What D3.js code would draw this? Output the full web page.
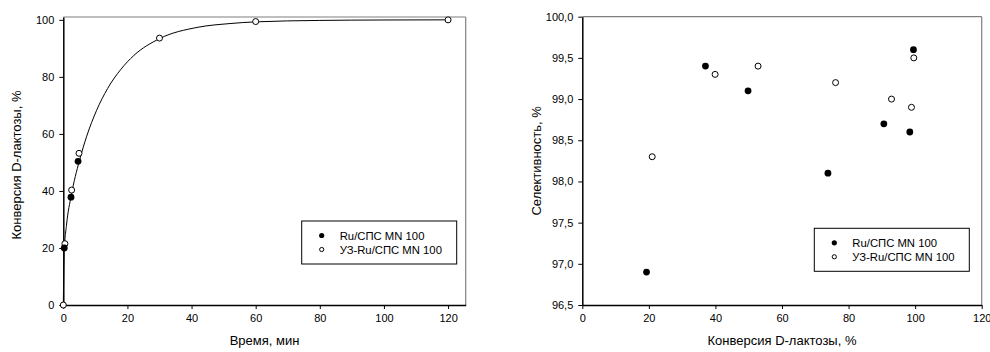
<!DOCTYPE html>
<html><head><meta charset="utf-8">
<script src="https://cdn.jsdelivr.net/npm/d3@7/dist/d3.min.js"></script>
<style>
body{margin:0;background:#fff;}
svg{display:block;font-family:"Liberation Sans",Arial,sans-serif;}
</style></head>
<body>
<svg id="c" width="990" height="352"></svg>
<script>
// ---- Data: left chart (conversion vs time) ----
const timeRu = [0.3, 2.4, 4.6];
const convRu = [20, 37.8, 50.4];
const timeUZ = [0, 0.5, 2.6, 4.9, 30, 60, 120];
const convUZ = [0, 21.5, 40.3, 53.2, 93.6, 99.4, 100];
// fitted curve
const fitTime = [0, 0.3, 1, 2.5, 5, 7.3, 10.4, 13.8, 18, 22, 30, 42, 52, 60, 80, 100, 120];
const fitConv = [0, 19, 28, 38.5, 50.5, 59.2, 68.3, 75.9, 82.7, 87.5, 93.4, 97.4, 98.7, 99.3, 99.8, 99.95, 100];
const leftXTicks = [0, 20, 40, 60, 80, 100, 120];
const leftYTicks = [0, 20, 40, 60, 80, 100];

// ---- Data: right chart (selectivity vs conversion) ----
const convRuS = [19.3, 37, 49.8, 73.8, 90.6, 98.4, 99.5];
const selRu   = [96.9, 99.4, 99.1, 98.1, 98.7, 98.6, 99.6];
const convUZS = [21, 39.9, 52.8, 76.1, 92.9, 98.9, 99.6];
const selUZ   = [98.3, 99.3, 99.4, 99.2, 99.0, 98.9, 99.5];
const rightXTicks = [0, 20, 40, 60, 80, 100, 120];
const rightYTicks = [96.5, 97, 97.5, 98, 98.5, 99, 99.5, 100];

const seriesNames = ["Ru/СПС MN 100", "УЗ-Ru/СПС MN 100"];

const svg = d3.select("#c");
const comma = d3.formatLocale({decimal: ",", thousands: " ", grouping: [3], currency: ["", ""]});

function panel(o) {
  const g = svg.append("g");
  const x = d3.scaleLinear().domain(o.xDomain).range([o.left, o.right]);
  const y = d3.scaleLinear().domain(o.yDomain).range([o.bottom, o.top]);

  // grey top/right frame
  g.append("line").attr("x1", o.left).attr("x2", o.right).attr("y1", o.top).attr("y2", o.top)
    .attr("stroke", "#7f7f7f").attr("stroke-width", 1.2);
  g.append("line").attr("x1", o.right).attr("x2", o.right).attr("y1", o.top).attr("y2", o.bottom)
    .attr("stroke", "#7f7f7f").attr("stroke-width", 1.2);

  const xa = g.append("g").attr("transform", `translate(0,${o.bottom})`)
    .call(d3.axisBottom(x).tickValues(o.xTicks).tickSize(4).tickPadding(5).tickFormat(d3.format("d")).tickSizeOuter(0));
  const ya = g.append("g").attr("transform", `translate(${o.left},0)`)
    .call(d3.axisLeft(y).tickValues(o.yTicks).tickSize(4).tickPadding(5).tickFormat(o.yFmt).tickSizeOuter(0));
  [xa, ya].forEach(a => {
    a.select(".domain").attr("stroke", "#000").attr("stroke-width", 1.5);
    a.selectAll(".tick line").attr("stroke", "#000").attr("stroke-width", 1);
    a.selectAll(".tick text").attr("fill", "#000").style("font-size", "11px").style("font-family", '"Liberation Sans",Arial,sans-serif');
  });

  g.append("text").attr("x", (o.left + o.right) / 2).attr("y", 345).attr("text-anchor", "middle")
    .style("font-size", "13px").text(o.xTitle);
  g.append("text").attr("transform", `translate(${o.yTitleX},${(o.top + o.bottom) / 2 + o.yTitleDy}) rotate(-90)`)
    .attr("text-anchor", "middle").style("font-size", "13px").text(o.yTitle);

  if (o.curve) {
    const line = d3.line().x(d => x(d[0])).y(d => y(d[1])).curve(d3.curveMonotoneX);
    g.append("path").datum(o.curve).attr("d", line).attr("fill", "none").attr("stroke", "#000").attr("stroke-width", 1);
  }

  g.selectAll(".uz").data(o.open).enter().append("circle")
    .attr("cx", d => x(d[0])).attr("cy", d => y(d[1])).attr("r", 3)
    .attr("fill", "#fff").attr("stroke", "#000").attr("stroke-width", 1);
  g.selectAll(".ru").data(o.filled).enter().append("circle")
    .attr("cx", d => x(d[0])).attr("cy", d => y(d[1])).attr("r", 3.4)
    .attr("fill", "#000");

  // legend
  const lg = g.append("g").attr("transform", `translate(${o.legX},${o.legY})`);
  lg.append("rect").attr("width", 155).attr("height", 43).attr("fill", "#fff").attr("stroke", "#000").attr("stroke-width", 1);
  lg.append("circle").attr("cx", 20).attr("cy", 14.5).attr("r", 2.6).attr("fill", "#000");
  lg.append("circle").attr("cx", 20).attr("cy", 28.5).attr("r", 2.1).attr("fill", "#fff").attr("stroke", "#000").attr("stroke-width", 1);
  lg.append("text").attr("x", 38).attr("y", 18.5).style("font-size", "11.3px").text(seriesNames[0]);
  lg.append("text").attr("x", 38).attr("y", 32.5).style("font-size", "11.3px").text(seriesNames[1]);
}

panel({
  left: 63.3, right: 465.7, top: 17, bottom: 305,
  xDomain: [0, 125.5], yDomain: [0, 101],
  xTicks: leftXTicks, yTicks: leftYTicks, yFmt: d3.format("d"),
  xTitle: "Время, мин", yTitle: "Конверсия D-лактозы, %", yTitleX: 21, yTitleDy: 4,
  curve: fitTime.map((t, i) => [t, fitConv[i]]),
  filled: timeRu.map((t, i) => [t, convRu[i]]),
  open: timeUZ.map((t, i) => [t, convUZ[i]]),
  legX: 301.7, legY: 221
});

panel({
  left: 582.3, right: 981.7, top: 16.7, bottom: 305,
  xDomain: [0, 120], yDomain: [96.5, 100],
  xTicks: rightXTicks, yTicks: rightYTicks, yFmt: comma.format(".1f"),
  xTitle: "Конверсия D-лактозы, %", yTitle: "Селективность, %", yTitleX: 541, yTitleDy: 0,
  curve: null,
  filled: convRuS.map((t, i) => [t, selRu[i]]),
  open: convUZS.map((t, i) => [t, selUZ[i]]),
  legX: 814.3, legY: 228.3
});
</script>
</body></html>
